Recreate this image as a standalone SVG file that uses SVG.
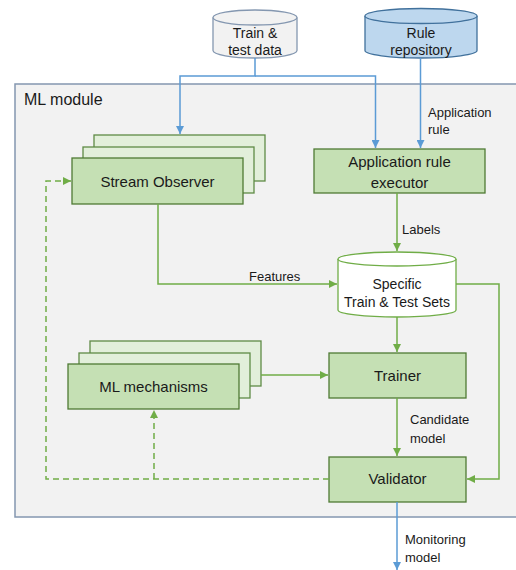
<svg xmlns="http://www.w3.org/2000/svg" width="516" height="570" viewBox="0 0 516 570">
<defs>
<marker id="ag" viewBox="0 0 10 10" refX="10" refY="5" markerWidth="8" markerHeight="8" markerUnits="userSpaceOnUse" orient="auto"><path d="M0,0 L10,5 L0,10 z" fill="#70ad47"/></marker>
<marker id="ab" viewBox="0 0 10 10" refX="10" refY="5" markerWidth="8" markerHeight="8" markerUnits="userSpaceOnUse" orient="auto"><path d="M0,0 L10,5 L0,10 z" fill="#5b9bd5"/></marker>
<style>
.t{font-family:"Liberation Sans",Arial,sans-serif;fill:#1a1a1a}
.n{font-size:15px;text-anchor:middle}
.c{font-size:14px;text-anchor:middle}
.l{font-size:13px}
.box{fill:#c5e0b4;stroke:#4f7a34;stroke-width:1.3}
.bk{fill:#e2efda;stroke:#5f8a46;stroke-width:1.3}
.g{fill:none;stroke:#70ad47;stroke-width:1.5}
.gd{fill:none;stroke:#70ad47;stroke-width:1.5;stroke-dasharray:6,4}
.b{fill:none;stroke:#5b9bd5;stroke-width:1.5}
</style>
</defs>
<rect width="516" height="570" fill="#ffffff"/>
<g id="ml-module">
<rect x="15" y="84" width="506" height="433" fill="#f2f2f2" stroke="#8497b0" stroke-width="1.5"/>
<text class="t" x="24" y="105" font-size="16">ML module</text>
</g>
<g id="train-test-data">
<path d="M213,17.5 L213,50.5 A42,7.5 0 0 0 297,50.5 L297,17.5" fill="#f2f2f2" stroke="#8497b0" stroke-width="1.3"/>
<ellipse cx="255" cy="17.5" rx="42" ry="7.5" fill="#f2f2f2" stroke="#8497b0" stroke-width="1.3"/>
<text class="t c" x="255" y="38">Train &amp;</text>
<text class="t c" x="255" y="55">test data</text>
</g>
<g id="rule-repository">
<path d="M365,16 L365,50.5 A56,7.5 0 0 0 477,50.5 L477,16" fill="#bdd7ee" stroke="#41719c" stroke-width="1.3"/>
<ellipse cx="421" cy="16" rx="56" ry="7.5" fill="#bdd7ee" stroke="#41719c" stroke-width="1.3"/>
<text class="t c" x="421" y="38">Rule</text>
<text class="t c" x="421" y="55">repository</text>
</g>
<g id="stream-observer">
<rect class="bk" x="94" y="135" width="171" height="46"/>
<rect class="bk" x="83" y="147" width="171" height="46"/>
<rect class="box" x="72" y="158" width="171" height="46"/>
<text class="t n" x="157.5" y="187">Stream Observer</text>
</g>
<g id="application-rule-executor">
<rect class="box" x="314" y="149" width="171" height="44"/>
<text class="t n" x="399.5" y="167">Application rule</text>
<text class="t n" x="399.5" y="188">executor</text>
</g>
<g id="specific-sets">
<path d="M338,259 L338,310 A59,7 0 0 0 456,310 L456,259" fill="#ffffff" stroke="#70ad47" stroke-width="1.3"/>
<ellipse cx="397" cy="259" rx="59" ry="7" fill="#ffffff" stroke="#70ad47" stroke-width="1.3"/>
<text class="t c" x="397" y="289" font-size="13">Specific</text>
<text class="t c" x="397" y="307" font-size="13">Train &amp; Test Sets</text>
</g>
<g id="ml-mechanisms">
<rect class="bk" x="90" y="341" width="171" height="45"/>
<rect class="bk" x="79" y="353" width="171" height="45"/>
<rect class="box" x="68" y="364" width="171" height="45"/>
<text class="t n" x="153.5" y="392">ML mechanisms</text>
</g>
<g id="trainer">
<rect class="box" x="329" y="353" width="137" height="45"/>
<text class="t n" x="397.5" y="381">Trainer</text>
</g>
<g id="validator">
<rect class="box" x="329" y="457" width="137" height="45"/>
<text class="t n" x="397.5" y="484">Validator</text>
</g>
<g id="connectors">
<path class="b" d="M255,58 L255,76 L180,76 L180,134" marker-end="url(#ab)"/>
<path class="b" d="M255,76 L375.5,76 L375.5,148" marker-end="url(#ab)"/>
<path class="b" d="M420.5,58 L420.5,148" marker-end="url(#ab)"/>
<path class="g" d="M397,193 L397,251" marker-end="url(#ag)"/>
<path class="g" d="M158,204 L158,284 L337,284" marker-end="url(#ag)"/>
<path class="g" d="M456,284 L499,284 L499,479 L467,479" marker-end="url(#ag)"/>
<path class="g" d="M397,317 L397,352" marker-end="url(#ag)"/>
<path class="g" d="M261,375 L328,375" marker-end="url(#ag)"/>
<path class="g" d="M397,398 L397,456" marker-end="url(#ag)"/>
<path class="gd" d="M329,479 L46,479 L46,181 L71,181" marker-end="url(#ag)"/>
<path class="gd" d="M154,479 L154,410" marker-end="url(#ag)"/>
<path class="b" d="M397,502 L397,570" marker-end="url(#ab)"/>
<text class="t l" x="428" y="117">Application</text>
<text class="t l" x="428" y="134">rule</text>
<text class="t l" x="402" y="234">Labels</text>
<text class="t l" x="249" y="281">Features</text>
<text class="t l" x="410" y="424">Candidate</text>
<text class="t l" x="410" y="443">model</text>
<text class="t l" x="405" y="544">Monitoring</text>
<text class="t l" x="405" y="562">model</text>
</g>
</svg>
